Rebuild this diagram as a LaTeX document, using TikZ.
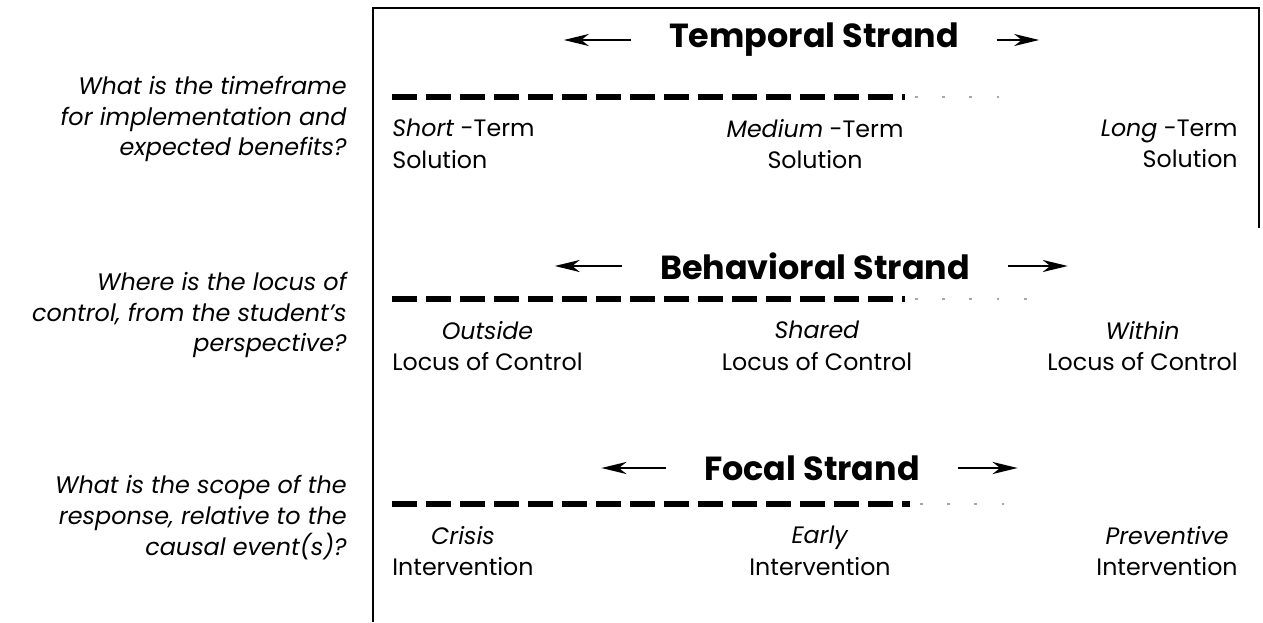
\documentclass[tikz,border=0pt]{standalone}
\usepackage{fontspec}
\setmainfont{Poppins}
\usetikzlibrary{arrows.meta, positioning}

\begin{document}
\begin{tikzpicture}[
  strarr/.style={-{Stealth[length=5mm, width=2.4mm, inset=1.5mm]}, line width=1.5pt},
  strand/.style={font=\fontsize{19}{22}\selectfont\bfseries, inner sep=0pt},
  dashline/.style={line width=3.4pt, dash pattern=on 0.5cm off 0.18cm},
  fadeline/.style={line width=1pt, black!35, dash pattern=on 1.5pt off 14pt},
  lbl/.style={font=\fontsize{13.5}{18}\selectfont, inner sep=0pt, align=center},
  quest/.style={font=\fontsize{13.6}{17.6}\selectfont\itshape, inner sep=0pt,
    align=right, anchor=east},
]

\useasboundingbox (0,0) rectangle (25.26,-12.44);

% Frame
\draw[line width=1.2pt] (25.18,-4.56) -- (25.18,-0.16) -- (7.46,-0.16) -- (7.46,-12.44);

% === Temporal strand ===
\node[strand] (ts) at (16.28,-0.80) {Temporal Strand};
\draw[strarr] ([xshift=-7.5mm]ts.west) -- ++(-1.35,0);
\draw[strarr] ([xshift=7.5mm]ts.east) -- ++(0.85,0);
\draw[dashline] (7.84,-1.94) -- (18.1,-1.94);
\draw[fadeline] (18.3,-1.94) -- (20.4,-1.94);

\node[lbl, anchor=west, align=left] (short) at (7.84,-2.88) {\textit{Short} -Term\\Solution};
\node[lbl] (medium) at (16.3,-2.88) {\textit{Medium} -Term\\Solution};
\node[lbl, anchor=east, align=right] (long) at (24.76,-2.88) {\textit{Long} -Term\\Solution};

\node[quest] (q1) at (6.94,-2.38) {What is the timeframe\\for implementation and\\expected benefits?};

% === Behavioral strand ===
\node[strand] (bs) at (16.30,-5.32) {Behavioral Strand};
\draw[strarr] ([xshift=-7.5mm]bs.west) -- ++(-1.35,0);
\draw[strarr] ([xshift=7.5mm]bs.east) -- ++(1.2,0);
\draw[dashline] (7.84,-5.98) -- (18.1,-5.98);
\draw[fadeline] (18.3,-5.98) -- (21.0,-5.98);

\node[lbl, anchor=west] (outside) at (7.84,-6.92) {\textit{Outside}\\Locus of Control};
\node[lbl] (shared) at (16.34,-6.92) {\textit{Shared}\\Locus of Control};
\node[lbl, anchor=east] (within) at (24.76,-6.92) {\textit{Within}\\Locus of Control};

\node[quest] (q2) at (6.94,-6.30) {Where is the locus of\\control, from the student's\\perspective?};

% === Focal strand ===
\node[strand] (fs) at (16.24,-9.36) {Focal Strand};
\draw[strarr] ([xshift=-7.5mm]fs.west) -- ++(-1.3,0);
\draw[strarr] ([xshift=7.5mm]fs.east) -- ++(1.2,0);
\draw[dashline] (7.84,-10.08) -- (18.2,-10.08);
\draw[fadeline] (18.4,-10.08) -- (20.4,-10.08);

\node[lbl, anchor=west] (crisis) at (7.84,-11.02) {\textit{Crisis}\\Intervention};
\node[lbl] (early) at (16.4,-11.02) {\textit{Early}\\Intervention};
\node[lbl, anchor=east] (prevent) at (24.76,-11.02) {\textit{Preventive}\\Intervention};

\node[quest] (q3) at (6.94,-10.36) {What is the scope of the\\response, relative to the\\causal event(s)?};

\end{tikzpicture}
\end{document}
